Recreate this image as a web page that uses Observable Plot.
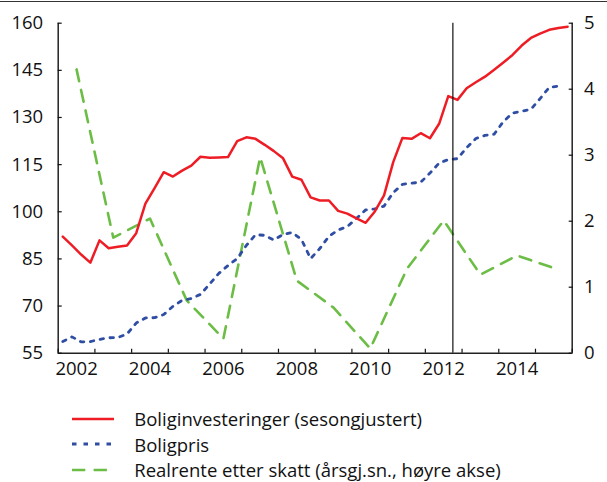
<!DOCTYPE html>
<html><head><meta charset="utf-8">
<script src="https://cdn.jsdelivr.net/npm/d3@7"></script>
<script src="https://cdn.jsdelivr.net/npm/@observablehq/plot@0.6"></script>
<style>
body{margin:0;background:#fff;font-family:"Open Sans",sans-serif;}
#wrap{position:relative;width:607px;height:482px;overflow:hidden}
#rule{position:absolute;left:0;top:1px;width:607px;height:0;border-top:1.5px solid #333}
#chart{position:absolute;left:0;top:0}
#legend{position:absolute;left:0;top:406px}
.row{display:flex;align-items:center;height:25.5px}
.row svg{margin-left:71.7px;flex:none}
.row span{margin-left:20.6px;font-size:18.5px;color:#111;white-space:nowrap}
</style></head>
<body><div id="wrap"><div id="rule"></div><div id="chart"></div><div id="legend"></div></div>
<script>
const startYear = 2002;
const boliginvesteringer = [
  92.1, 89.3, 86.4, 83.8,
  90.9, 88.4, 88.9, 89.3,
  93.2, 102.6, 107.5, 112.6,
  111.2, 113.1, 114.7, 117.5,
  117.2, 117.3, 117.4, 122.5,
  123.7, 123.2, 121.3, 119.3,
  117.0, 111.2, 110.2, 104.6,
  103.6, 103.6, 100.3, 99.4,
  97.9, 96.5, 100.1, 105.2,
  115.8, 123.5, 123.2, 125.0,
  123.4, 128.0, 136.8, 135.6,
  139.3, 141.2, 143.0, 145.2,
  147.5, 149.9, 152.9, 155.3,
  156.7, 157.9, 158.5, 158.9
];
const boligpris = [
  58.7, 60.2, 58.6, 58.7,
  59.4, 59.9, 60.0, 61.1,
  64.6, 66.2, 66.3, 67.3,
  69.9, 71.8, 72.4, 73.7,
  77.0, 80.4, 82.9, 85.1,
  89.3, 92.7, 92.5, 91.0,
  92.8, 93.4, 91.2, 85.1,
  88.3, 92.2, 94.2, 95.3,
  97.9, 100.6, 100.9, 101.8,
  106.1, 108.7, 109.1, 109.4,
  112.3, 115.5, 116.6, 116.9,
  120.4, 123.3, 124.3, 124.7,
  128.7, 131.4, 132.0, 132.6,
  136.0, 139.6, 140.0
];
const realrenteYears = [2002, 2003, 2004, 2005, 2006, 2007, 2008, 2009, 2010, 2011, 2012, 2013, 2014, 2015];
const realrente = [4.3, 1.75, 2.04, 0.80, 0.22, 2.97, 1.10, 0.69, 0.07, 1.28, 2.01, 1.19, 1.48, 1.29];
const leftTicks = [55, 70, 85, 100, 115, 130, 145, 160];
const rightTicks = [0, 1, 2, 3, 4, 5];
const yearTicks = [2002, 2003, 2004, 2005, 2006, 2007, 2008, 2009, 2010, 2011, 2012, 2013, 2014, 2015, 2016];
const yearLabels = [2002, 2004, 2006, 2008, 2010, 2012, 2014];
const prognoseYear = 2012.75;
const legendLabels = ["Boliginvesteringer (sesongjustert)", "Boligpris", "Realrente etter skatt (årsgj.sn., høyre akse)"];

const colors = {red: "#ee1d25", blue: "#2f4ea3", green: "#6cbd45"};
const qx = i => startYear + (i + 0.5) / 4;
const toLeft = r => 55 + r * 21;
const red = boliginvesteringer.map((v, i) => ({x: qx(i), y: v}));
const blue = boligpris.map((v, i) => ({x: qx(i), y: v}));
const green = realrenteYears.map((yr, i) => ({x: yr + 0.5, y: toLeft(realrente[i])}));

const chart = Plot.plot({
  width: 607, height: 385,
  marginTop: 22.7, marginBottom: 32.3, marginLeft: 57.7, marginRight: 35.3,
  style: {fontFamily: '"Open Sans", sans-serif', fontSize: "18.5px", color: "#111", background: "transparent"},
  x: {type: "linear", domain: [2002, 2016], label: null},
  y: {domain: [55, 160], label: null},
  marks: [
    Plot.line(green, {x: "x", y: "y", stroke: colors.green, strokeWidth: 2.6, strokeDasharray: "12,9"}),
    Plot.line(blue, {x: "x", y: "y", stroke: colors.blue, strokeWidth: 2.8, strokeDasharray: "3.5,6.5"}),
    Plot.line(red, {x: "x", y: "y", stroke: colors.red, strokeWidth: 2.5}),
    Plot.ruleX([prognoseYear], {stroke: "#111", strokeWidth: 1.2}),
    Plot.ruleX([2002, 2016], {stroke: "#222", strokeWidth: 1.5}),
    Plot.ruleY([55], {stroke: "#222", strokeWidth: 1.5}),
    Plot.axisY(leftTicks, {anchor: "left", tickSize: -4, tickPadding: 19, label: null, strokeWidth: 1.2, tickFormat: d => String(d)}),
    Plot.axisY(rightTicks.map(toLeft), {anchor: "right", tickSize: -4, tickPadding: 15.7, label: null, strokeWidth: 1.2, tickFormat: d => String(Math.round((d - 55) / 21))}),
    Plot.axisX(yearTicks, {anchor: "bottom", tickSize: -4, label: null, strokeWidth: 1.2, tickFormat: () => ""}),
    Plot.axisX(yearLabels.map(y => y + 0.5), {anchor: "bottom", tickSize: 0, tickPadding: 9, label: null, tickFormat: d => String(Math.floor(d))})
  ]
});
document.getElementById("chart").appendChild(chart);

const swatches = [
  {stroke: colors.red, dash: null, width: 2.5},
  {stroke: colors.blue, dash: "4.5,7", width: 2.8},
  {stroke: colors.green, dash: "13.3,8.3", width: 2.6}
];
const legend = document.getElementById("legend");
legendLabels.forEach((label, i) => {
  const row = document.createElement("div");
  row.className = "row";
  const s = swatches[i];
  row.innerHTML = `<svg width="42" height="10"><line x1="0" x2="42" y1="5" y2="5" stroke="${s.stroke}" stroke-width="${s.width}" ${s.dash ? `stroke-dasharray="${s.dash}"` : ""}/></svg><span></span>`;
  row.querySelector("span").textContent = label;
  legend.appendChild(row);
});
</script>
</body></html>
